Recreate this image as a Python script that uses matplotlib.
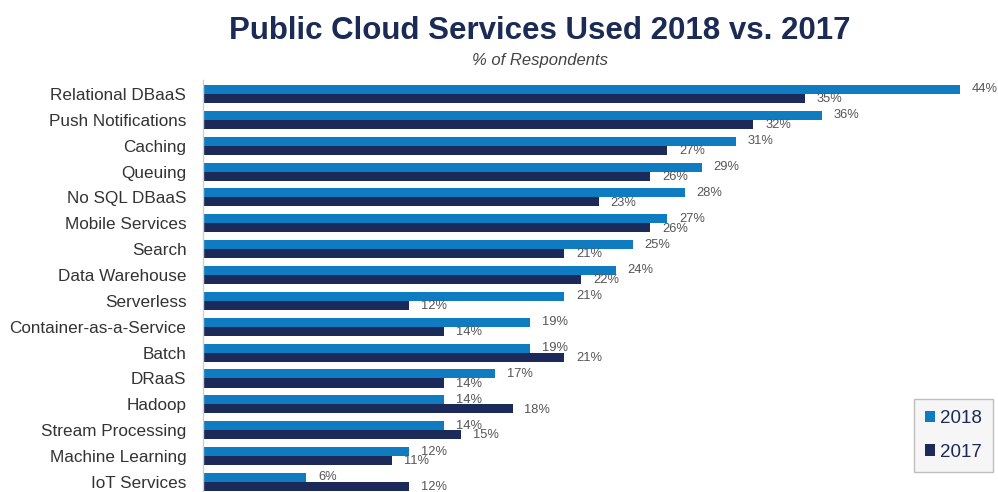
import matplotlib
matplotlib.use("Agg")
import matplotlib.pyplot as plt
import numpy as np

categories = ["Relational DBaaS", "Push Notifications", "Caching", "Queuing",
              "No SQL DBaaS", "Mobile Services", "Search", "Data Warehouse",
              "Serverless", "Container-as-a-Service", "Batch", "DRaaS",
              "Hadoop", "Stream Processing", "Machine Learning", "IoT Services"]
values_2018 = [44, 36, 31, 29, 28, 27, 25, 24, 21, 19, 19, 17, 14, 14, 12, 6]
values_2017 = [35, 32, 27, 26, 23, 26, 21, 22, 12, 14, 21, 14, 18, 15, 11, 12]
series_names = ["2018", "2017"]

c18 = "#0f7cc2"
c17 = "#1b2a58"

plt.rcParams['font.family'] = ['Liberation Sans', 'DejaVu Sans']

fig = plt.figure(figsize=(9.98, 4.92), dpi=100)
ax = fig.add_axes([203/998, 0.0, 790/998, 412/492])

y = np.arange(len(categories))
h = 0.35
b18 = ax.barh(y - h/2, values_2018, height=h, color=c18, label=series_names[0])
b17 = ax.barh(y + h/2, values_2017, height=h, color=c17, label=series_names[1])

for yi, v in zip(y, values_2018):
    ax.annotate(f"{v}%", xy=(v, yi - h/2), xytext=(8.5, 0), textcoords="offset points",
                va="center", ha="left", fontsize=9.3, color="#555555")
for yi, v in zip(y, values_2017):
    ax.annotate(f"{v}%", xy=(v, yi + h/2), xytext=(8.5, -0.5), textcoords="offset points",
                va="center", ha="left", fontsize=9.3, color="#555555")

ax.set_xlim(0, 45.93)
ax.set_ylim(15.39, -0.54)
ax.set_yticks(y)
ax.set_yticklabels(categories, fontsize=12.3, color="#333333")
ax.tick_params(axis="y", length=0, pad=12)
ax.set_xticks([])
for s in ["top", "right", "bottom"]:
    ax.spines[s].set_visible(False)
ax.spines["left"].set_color("#d0d0d0")
ax.spines["left"].set_linewidth(1)

leg = ax.legend(loc="lower right", bbox_to_anchor=(993/998, 20/492), bbox_transform=fig.transFigure,
                fontsize=13.5, frameon=True, fancybox=False, handlelength=0.55, handleheight=0.55,
                handletextpad=0.25, labelspacing=0.9, borderpad=0.6, borderaxespad=0,
                edgecolor="#b0b0b0")
leg.get_frame().set_facecolor("#f4f4f4")
leg.get_frame().set_linewidth(1)
for t in leg.get_texts():
    t.set_color("#1b2a58")

fig.text(540/998, 1 - 31/492, "Public Cloud Services Used 2018 vs. 2017", ha="center", va="center",
         fontsize=22.5, fontweight="bold", color="#1c2b55")
fig.text(540/998, 1 - 60/492, "% of Respondents", ha="center", va="center",
         fontsize=12, style="italic", color="#444444")

fig.savefig("out.png", dpi=100, facecolor="white")
